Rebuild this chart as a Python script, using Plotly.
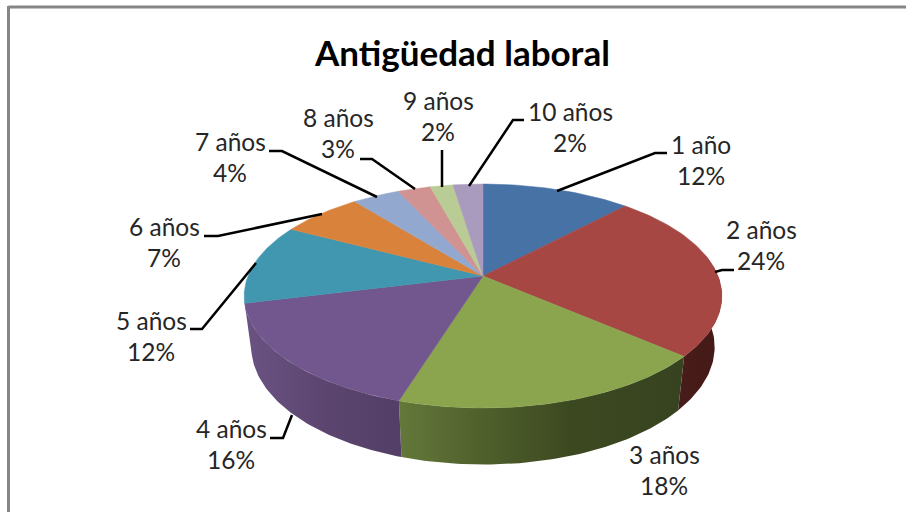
import numpy as np
import plotly.graph_objects as go

# --- data ---
categories = ["1 año", "2 años", "3 años", "4 años", "5 años",
              "6 años", "7 años", "8 años", "9 años", "10 años"]
values = [12.0, 24.4, 18.45, 16.35, 11.6, 6.6, 3.8, 2.65, 1.85, 2.4]
percent_labels = ["12%", "24%", "18%", "16%", "12%", "7%", "4%", "3%", "2%", "2%"]
title_text = "Antigüedad laboral"

# --- styles ---
top_colors = ["#4672A5", "#A64744", "#8AA54E", "#71578D", "#4197AF",
              "#D9823B", "#93A8CF", "#D09391", "#BACC95", "#A99BBD"]
wall_scales = {
    1: [[0, "#471C19"], [1, "#441A18"]],
    2: [[0, "#64783A"], [0.3, "#4F5F2C"], [0.6, "#3C4920"], [1, "#374320"]],
    3: [[0, "#6A5382"], [0.5, "#5C4670"], [1, "#523E66"]],
}

# --- layout of the pie ---
CX, CY = 483, 276
RX, RY, K = 235, 108.4, 0.1786
LOW_X, LOW_Y, DROP = 0.97, 1.05, 50
VISIBLE_WALL = (80, 262)

label_centres = [(701, 144.5), (761, 229.5), (664, 454.5), (231, 428.5), (151, 320.5),
                 (164, 226.5), (230, 141.5), (338, 117.5), (438, 100.5), (570, 111.5)]
LINE_GAP = 31
leaders = [
    [(557, 191), (655, 153), (667, 153)],
    [(715, 272), (722, 270), (734, 270)],
    None,
    [(292, 415), (283, 438), (270, 438)],
    [(190, 329), (202, 329), (256, 263)],
    [(204, 236), (218, 236), (322, 214)],
    [(269, 151), (282, 151), (377, 197)],
    [(360, 159), (372, 159), (415, 189)],
    [(442, 150), (442, 187)],
    [(469, 186), (513, 120), (524, 120)],
]


def project(deg):
    t = np.radians(deg)
    w = 1 + K * np.cos(t)
    return RX * np.sin(t) / w, RY * np.cos(t) / w


def arc(a, b):
    n = max(2, int(abs(b - a)) + 2)
    return np.linspace(a, b, n)


total = sum(values)
edges = np.concatenate([[0], np.cumsum(values)]) / total * 360

fig = go.Figure()

# side wall (drawn first, the top face covers what it should)
for i, scale in wall_scales.items():
    a = max(edges[i], VISIBLE_WALL[0])
    b = min(edges[i + 1], VISIBLE_WALL[1])
    dx, dy = project(arc(a, b))
    x_top, y_top = CX + dx, CY - dy
    x_low, y_low = CX + LOW_X * dx, CY - LOW_Y * dy + DROP
    fig.add_trace(go.Scatter(
        x=np.concatenate([x_top, x_low[::-1], x_top[:1]]),
        y=np.concatenate([y_top, y_low[::-1], y_top[:1]]),
        mode="lines", line=dict(width=0), fill="toself",
        fillgradient=dict(type="horizontal", colorscale=scale),
        hoverinfo="skip", showlegend=False))

# top face
for i, name in enumerate(categories):
    dx, dy = project(arc(edges[i], edges[i + 1]))
    fig.add_trace(go.Scatter(
        x=np.concatenate([[CX], CX + dx, [CX]]),
        y=np.concatenate([[CY], CY - dy, [CY]]),
        mode="lines", line=dict(width=0.5, color=top_colors[i]),
        fill="toself", fillcolor=top_colors[i], name=name,
        hoverinfo="name", showlegend=False))

# leader lines
for pts in leaders:
    if pts:
        fig.add_trace(go.Scatter(
            x=[p[0] for p in pts], y=[p[1] for p in pts], mode="lines",
            line=dict(color="black", width=2.5), hoverinfo="skip", showlegend=False))

# labels
annotations = []
for name, pct, (x, y) in zip(categories, percent_labels, label_centres):
    for txt, yy in ((name, y), (pct, y + LINE_GAP)):
        annotations.append(dict(x=x, y=yy, text=txt, showarrow=False, xanchor="center",
                                yanchor="middle", font=dict(family="Lato", size=24.5, color="#262626")))
annotations.append(dict(x=462, y=52, text=f"<b>{title_text}</b>", showarrow=False,
                        xanchor="center", yanchor="middle",
                        font=dict(family="Lato", size=35, color="black")))

shapes = [
    dict(type="line", x0=8.5, x1=906, y0=7, y1=7, line=dict(color="#868686", width=3)),
    dict(type="line", x0=8.5, x1=8.5, y0=6, y1=512, line=dict(color="#868686", width=3)),
]

fig.update_layout(
    width=906, height=512, autosize=False,
    margin=dict(l=0, r=0, t=0, b=0),
    paper_bgcolor="white", plot_bgcolor="white",
    xaxis=dict(range=[0, 906], visible=False, fixedrange=True),
    yaxis=dict(range=[512, 0], visible=False, fixedrange=True),
    annotations=annotations, shapes=shapes, showlegend=False,
)
fig.write_html("out.html", config={"displayModeBar": False},
               post_script="document.body.style.margin='0';document.body.style.overflow='hidden';")
